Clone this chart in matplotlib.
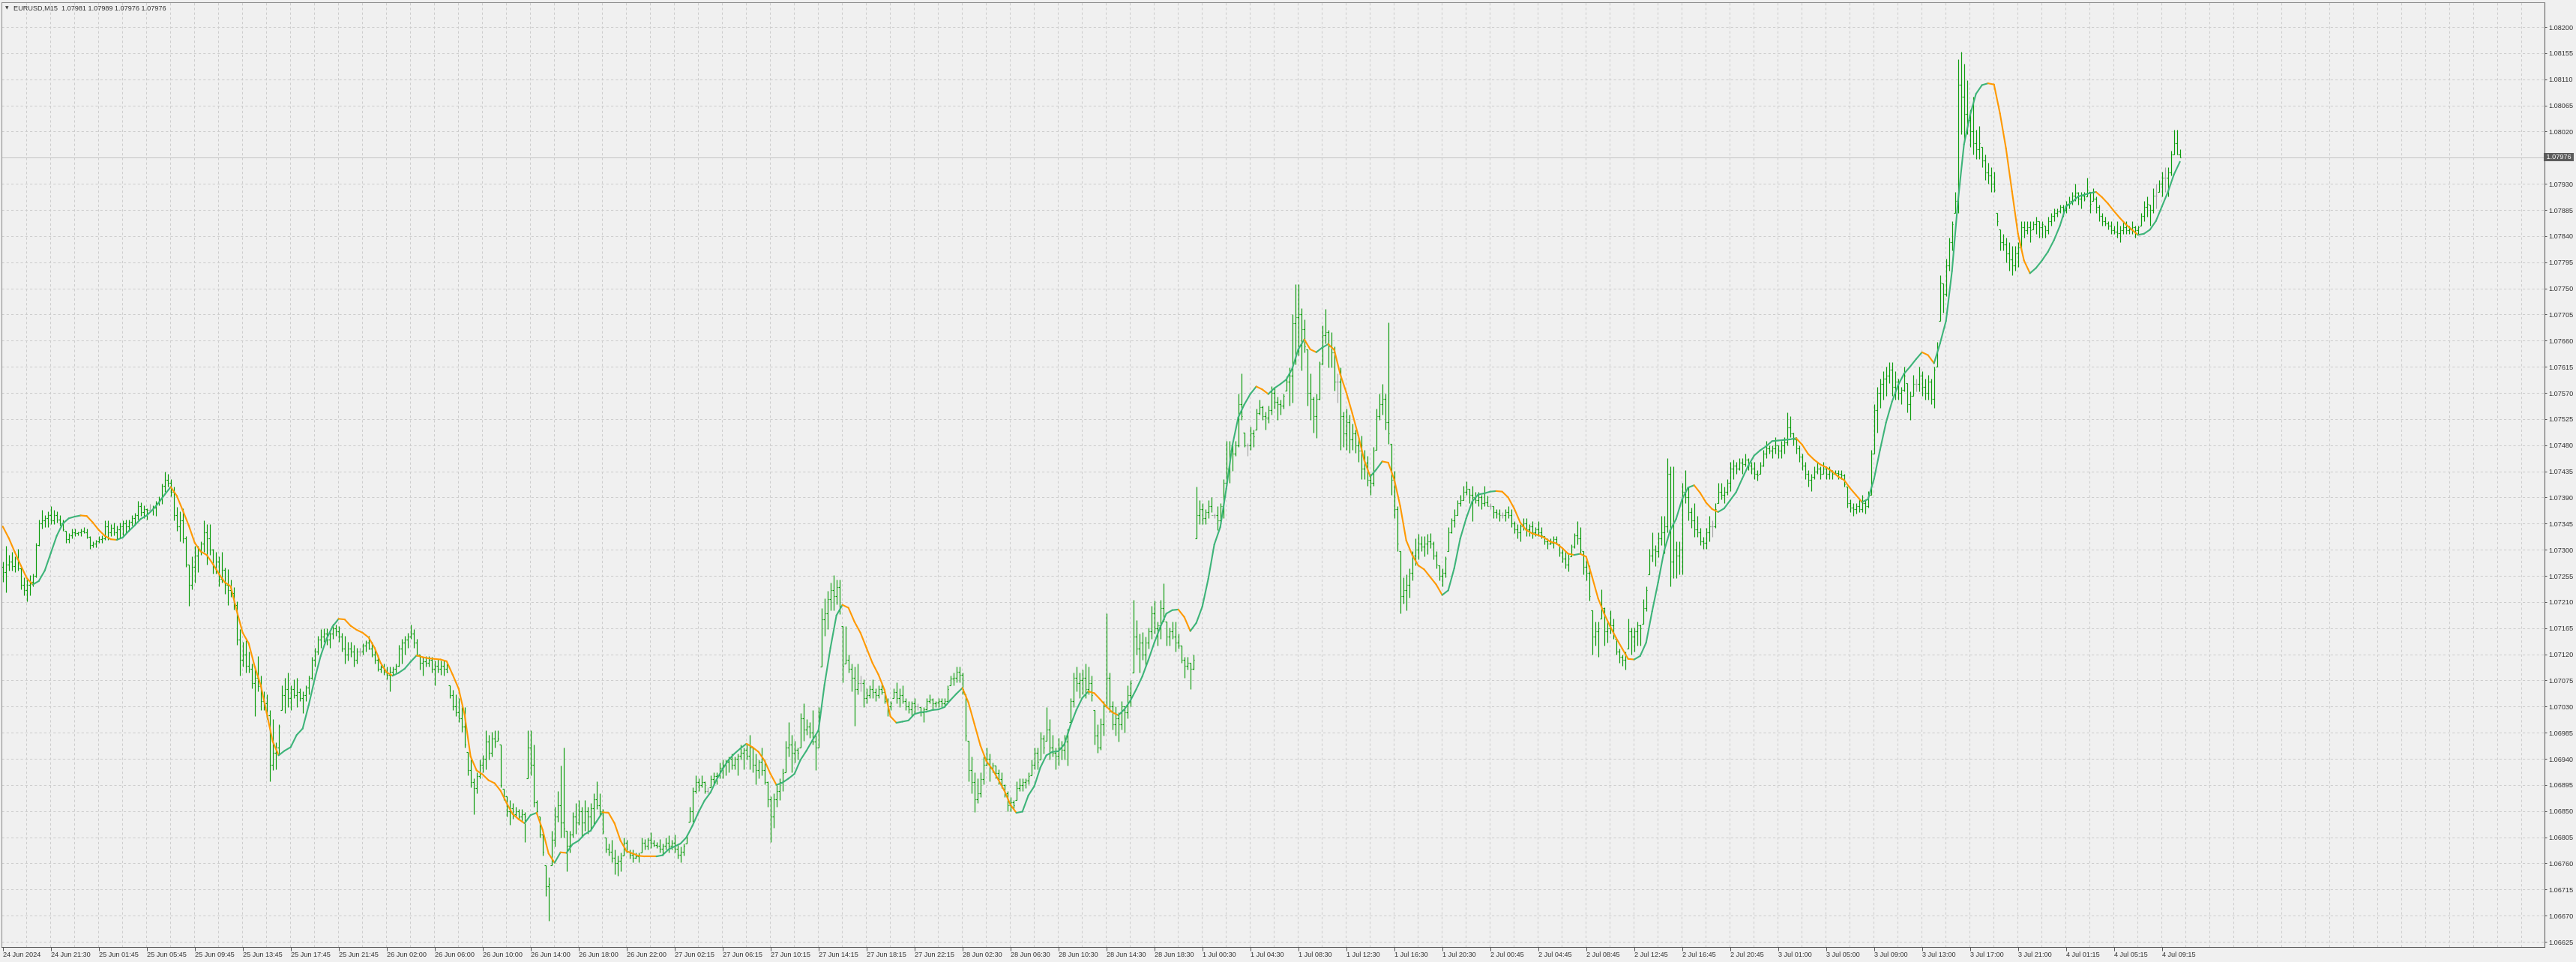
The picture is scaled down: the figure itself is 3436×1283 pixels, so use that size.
import numpy as np
import matplotlib
matplotlib.use("Agg")
import matplotlib.pyplot as plt
from matplotlib.collections import LineCollection
from matplotlib.transforms import blended_transform_factory

plt.rcParams['font.family'] = ['Liberation Sans', 'DejaVu Sans']

# ---------------- data ----------------
SYMBOL = "EURUSD,M15"
LAST_OHLC = ["1.07981", "1.07989", "1.07976", "1.07976"]
LAST_PRICE = 1.07976
BASE = 1.06          # prices below are stored in points (0.00001) above 1.06000
POINT = 0.00001

bar_high = [
 1280,1307,1291,1296,1288,1302,1269,1253,1248,1256,1259,1312,1352,1368,1360,1366,
 1375,1368,1366,1360,1352,1333,1328,1336,1336,1331,1336,1339,1336,1323,1315,1317,
 1323,1325,1350,1350,1344,1347,1341,1347,1350,1352,1352,1360,1363,1384,1382,1376,
 1371,1379,1376,1384,1392,1414,1435,1430,1422,1408,1374,1366,1371,1323,1275,1288,
 1307,1307,1315,1350,1344,1344,1302,1296,1288,1296,1269,1267,1248,1235,1211,1163,
 1141,1144,1125,1104,1099,1117,1083,1056,1051,1024,1008,968,1000,1067,1080,1088,
 1067,1077,1080,1061,1056,1067,1083,1115,1131,1152,1163,1165,1165,1160,1173,1171,
 1168,1157,1152,1141,1141,1136,1131,1131,1139,1144,1152,1141,1128,1120,1101,1104,
 1099,1099,1099,1104,1136,1147,1152,1157,1171,1163,1147,1120,1115,1117,1117,1115,
 1109,1112,1109,1109,1104,1067,1059,1051,1045,1029,1029,952,939,907,917,939,
 947,989,981,987,989,989,965,888,875,869,864,858,853,853,848,989,
 989,965,869,840,811,757,736,816,858,885,928,960,816,816,848,864,
 869,858,869,858,864,880,901,880,853,805,794,800,784,773,778,805,
 800,784,784,778,778,805,802,805,813,800,797,802,794,805,808,800,
 810,794,789,794,810,858,891,912,907,912,901,891,912,917,917,933,
 939,939,944,949,944,949,965,960,965,981,960,949,939,960,939,901,
 875,880,896,907,923,971,1003,981,971,960,1019,1035,1008,1003,1024,981,
 1029,1200,1216,1229,1243,1256,1248,1248,1168,1168,1120,1104,1099,1104,1083,1077,
 1061,1067,1077,1061,1067,1072,1056,1045,1040,1061,1072,1061,1067,1045,1040,1040,
 1045,1035,1029,1029,1045,1051,1045,1040,1045,1045,1045,1067,1083,1088,1099,1099,
 1088,1051,971,944,917,907,917,944,960,949,933,928,922,917,896,885,
 874,869,901,907,907,907,917,939,960,960,987,981,1029,1008,981,960,
 976,971,981,992,1045,1088,1099,1088,1093,1104,1099,1083,1024,1000,1010,1040,
 1191,1089,1040,1030,1020,1040,1030,1066,1075,1214,1179,1156,1158,1151,1166,1204,
 1212,1176,1214,1242,1176,1166,1176,1176,1156,1135,1115,1115,1105,1120,1408,1385,
 1380,1370,1385,1390,1362,1375,1380,1421,1487,1487,1482,1487,1569,1604,1502,1484,
 1512,1507,1543,1558,1548,1538,1548,1581,1579,1563,1558,1569,1599,1614,1706,1757,
 1757,1716,1696,1645,1604,1563,1569,1624,1686,1714,1678,1675,1650,1604,1614,1538,
 1543,1533,1517,1507,1492,1497,1472,1461,1431,1477,1543,1569,1586,1569,1691,1482,
 1436,1375,1298,1252,1257,1268,1298,1319,1327,1324,1324,1327,1329,1314,1298,1273,
 1268,1288,1339,1355,1370,1385,1395,1410,1418,1405,1410,1400,1400,1395,1410,1393,
 1380,1375,1370,1370,1365,1370,1375,1370,1349,1344,1344,1355,1355,1344,1349,1339,
 1349,1339,1324,1319,1319,1324,1324,1309,1303,1298,1293,1309,1329,1349,1339,1298,
 1283,1273,1196,1176,1176,1232,1201,1176,1196,1181,1146,1130,1120,1125,1181,1166,
 1166,1176,1171,1215,1237,1301,1330,1308,1330,1358,1358,1458,1444,1444,1315,1315,
 1415,1437,1408,1372,1380,1358,1337,1322,1337,1358,1351,1380,1415,1415,1408,1422,
 1451,1455,1451,1458,1458,1465,1458,1451,1451,1437,1451,1472,1487,1480,1480,1494,
 1480,1487,1494,1537,1530,1501,1494,1480,1465,1451,1437,1430,1444,1451,1444,1451,
 1444,1444,1437,1437,1437,1437,1430,1408,1387,1380,1380,1387,1394,1387,1401,1472,
 1551,1580,1594,1608,1615,1623,1623,1608,1594,1580,1615,1587,1573,1601,1594,1615,
 1608,1594,1601,1594,1615,1658,1773,1758,1801,1837,1866,1916,2144,2158,2137,2108,
 2058,2080,2023,2030,1994,1980,1966,1958,1951,1880,1851,1844,1837,1830,1823,1823,
 1830,1866,1866,1866,1866,1866,1873,1866,1866,1858,1873,1880,1887,1887,1894,1894,
 1901,1908,1916,1930,1916,1916,1916,1941,1916,1923,1908,1894,1880,1873,1866,1866,
 1858,1866,1858,1866,1866,1858,1866,1858,1858,1880,1901,1908,1894,1923,1930,1937,
 1951,1958,1958,1987,2023,2023,1989]

bar_low = [
 1245,1227,1264,1264,1261,1264,1232,1221,1211,1221,1237,1253,1307,1336,1339,1339,
 1344,1344,1347,1341,1333,1312,1312,1320,1323,1325,1323,1328,1320,1302,1304,1304,
 1312,1312,1317,1317,1323,1325,1317,1320,1325,1328,1333,1341,1344,1352,1358,1355,
 1352,1368,1360,1358,1376,1379,1400,1408,1392,1350,1333,1315,1312,1270,1203,1232,
 1243,1261,1291,1296,1275,1291,1259,1259,1237,1243,1224,1205,1219,1197,1136,1083,
 1099,1088,1088,1061,1013,1056,1024,1024,1008,901,920,922,949,1024,1019,1029,
 1024,1045,1029,1040,1019,1040,1051,1077,1099,1120,1131,1141,1136,1131,1147,1152,
 1141,1125,1104,1109,1115,1099,1104,1117,1120,1125,1128,1115,1104,1091,1088,1085,
 1077,1056,1083,1088,1099,1104,1120,1131,1147,1131,1117,1093,1083,1099,1099,1088,
 1067,1088,1085,1083,1088,1045,1024,1013,1003,987,960,912,891,845,880,907,
 917,922,939,944,960,971,891,869,840,826,837,840,837,832,797,906,
 912,858,845,805,773,704,661,757,789,832,805,805,746,778,805,811,
 826,805,816,811,816,826,853,842,811,778,773,762,741,738,746,773,
 778,768,762,768,762,778,784,784,786,789,786,778,773,784,778,784,
 778,768,762,773,794,832,832,880,885,891,880,880,891,896,896,907,
 907,912,917,922,922,912,939,922,939,922,917,896,907,912,896,858,
 797,821,858,869,885,917,944,917,933,939,960,971,981,976,965,920,
 960,1099,1152,1163,1195,1195,1206,1189,1072,1104,1088,1056,997,1051,1056,1029,
 1035,1045,1045,1040,1045,1051,1035,1013,1024,1045,1035,1029,1035,1024,1019,1013,
 1019,1024,1013,1003,1024,1035,1024,1029,1029,1029,1029,1040,1067,1067,1072,1072,
 1051,971,901,880,848,864,874,896,928,901,917,907,896,890,874,850,
 850,853,869,885,885,890,896,912,922,922,939,949,971,939,944,922,
 928,939,939,928,1003,1029,1056,1045,1051,1045,1051,1040,965,950,955,980,
 1030,1020,990,980,970,990,985,1010,1030,1089,1120,1089,1110,1100,1130,1146,
 1156,1135,1146,1176,1135,1135,1146,1125,1130,1105,1079,1094,1060,1094,1319,1344,
 1344,1344,1355,1365,1355,1334,1349,1355,1410,1415,1436,1461,1477,1523,1477,1461,
 1472,1477,1507,1533,1523,1507,1518,1533,1543,1523,1533,1543,1574,1548,1553,1619,
 1635,1609,1640,1548,1523,1502,1492,1558,1619,1655,1614,1614,1574,1553,1472,1477,
 1472,1467,1472,1467,1451,1421,1421,1410,1395,1410,1472,1523,1533,1507,1482,1395,
 1355,1298,1191,1207,1196,1217,1247,1273,1283,1298,1288,1293,1303,1283,1268,1247,
 1237,1253,1298,1329,1339,1360,1375,1385,1395,1380,1349,1380,1375,1370,1375,1375,
 1370,1355,1355,1349,1355,1349,1355,1339,1329,1319,1314,1334,1324,1324,1319,1324,
 1324,1319,1309,1301,1309,1303,1309,1288,1278,1268,1263,1288,1303,1309,1293,1258,
 1247,1212,1120,1135,1115,1181,1135,1140,1156,1146,1120,1105,1100,1094,1130,1120,
 1125,1135,1135,1172,1194,1258,1280,1272,1287,1308,1294,1330,1237,1251,1251,1258,
 1258,1380,1351,1337,1322,1322,1308,1301,1301,1315,1322,1337,1380,1387,1380,1394,
 1401,1422,1430,1437,1430,1444,1437,1430,1422,1419,1430,1444,1458,1465,1458,1465,
 1458,1458,1465,1480,1494,1480,1465,1451,1437,1422,1408,1401,1422,1430,1422,1430,
 1422,1422,1422,1430,1422,1422,1408,1372,1365,1358,1362,1365,1365,1362,1372,1394,
 1465,1501,1544,1558,1565,1587,1565,1558,1558,1551,1573,1537,1523,1565,1573,1573,
 1565,1558,1558,1551,1544,1615,1694,1708,1737,1780,1815,1880,1880,2016,2001,2016,
 1994,1980,1973,1973,1958,1937,1930,1916,1916,1858,1815,1815,1794,1780,1773,1780,
 1787,1815,1837,1844,1830,1851,1844,1837,1837,1837,1844,1858,1866,1873,1880,1873,
 1880,1887,1894,1901,1894,1887,1901,1908,1880,1901,1880,1866,1858,1858,1851,1844,
 1844,1837,1830,1844,1844,1844,1844,1837,1844,1858,1866,1873,1858,1880,1887,1916,
 1908,1916,1908,1944,1980,1980,1976]

bar_close = [
 1262,1275,1280,1272,1285,1268,1240,1230,1240,1245,1255,1308,1345,1350,1355,1360,
 1350,1360,1352,1345,1335,1318,1325,1330,1328,1330,1333,1330,1322,1308,1310,1315,
 1318,1320,1340,1330,1338,1330,1335,1340,1345,1340,1348,1355,1360,1375,1365,1370,
 1368,1368,1372,1380,1388,1410,1420,1415,1400,1360,1340,1350,1320,1275,1240,1270,
 1290,1300,1310,1330,1320,1300,1270,1280,1250,1265,1240,1230,1225,1205,1145,1110,
 1120,1100,1095,1070,1080,1065,1040,1035,1015,930,950,960,995,1050,1060,1045,
 1060,1050,1055,1045,1050,1062,1080,1110,1125,1145,1150,1155,1145,1155,1165,1160,
 1150,1130,1120,1130,1125,1110,1125,1125,1135,1140,1130,1120,1110,1095,1097,1090,
 1085,1090,1095,1100,1130,1140,1145,1150,1155,1140,1120,1105,1108,1105,1110,1095,
 1100,1095,1100,1095,1090,1050,1030,1020,1010,995,965,920,900,890,910,930,
 940,970,950,975,970,975,895,875,850,855,845,850,840,845,840,960,
 930,865,850,810,780,720,725,800,840,860,830,820,790,810,840,830,
 850,830,850,840,855,870,860,850,815,785,780,770,760,765,770,795,
 780,775,770,772,775,795,790,800,795,792,790,785,790,795,790,795,
 785,775,780,790,805,850,885,900,895,900,885,885,905,910,912,925,
 930,935,940,930,940,945,950,955,945,960,930,920,935,920,900,870,
 840,870,885,900,915,960,965,950,955,950,1010,990,995,985,970,960,
 1020,1180,1190,1215,1230,1220,1235,1200,1100,1110,1095,1080,1060,1070,1070,1045,
 1050,1060,1055,1050,1060,1055,1040,1030,1035,1055,1045,1050,1040,1030,1025,1035,
 1030,1030,1020,1025,1040,1042,1035,1037,1040,1035,1040,1060,1078,1080,1090,1085,
 1060,980,920,900,870,880,905,930,940,925,928,915,905,895,880,860,
 865,860,890,895,900,902,910,930,950,935,975,960,990,960,950,945,
 960,955,970,985,1040,1080,1070,1075,1080,1060,1070,1050,980,960,1000,1030,
 1080,1030,1000,1010,1000,1030,1020,1050,1070,1150,1130,1140,1120,1140,1160,1190,
 1165,1170,1200,1180,1150,1160,1150,1140,1135,1110,1100,1105,1095,1110,1360,1370,
 1355,1365,1375,1360,1360,1350,1375,1415,1440,1470,1465,1480,1550,1530,1480,1480,
 1500,1495,1535,1545,1530,1528,1540,1570,1555,1550,1548,1565,1590,1600,1690,1700,
 1705,1680,1650,1570,1560,1530,1560,1620,1670,1675,1650,1640,1590,1590,1530,1500,
 1520,1490,1500,1480,1470,1440,1450,1420,1415,1470,1530,1550,1560,1520,1500,1420,
 1370,1310,1220,1230,1240,1260,1290,1300,1310,1305,1310,1315,1310,1290,1275,1255,
 1260,1285,1330,1350,1360,1380,1385,1400,1405,1395,1390,1385,1390,1380,1382,1375,
 1375,1365,1362,1360,1360,1365,1360,1345,1335,1330,1340,1345,1335,1340,1330,1335,
 1330,1325,1315,1310,1312,1318,1310,1295,1285,1275,1285,1305,1325,1320,1300,1270,
 1260,1220,1150,1160,1165,1200,1160,1165,1170,1150,1125,1115,1110,1120,1160,1150,
 1160,1170,1165,1200,1230,1290,1300,1298,1320,1330,1340,1430,1280,1300,1290,1300,
 1400,1390,1365,1350,1335,1330,1315,1312,1330,1340,1340,1370,1400,1395,1400,1415,
 1440,1445,1440,1450,1448,1455,1445,1440,1430,1428,1445,1465,1475,1470,1475,1480,
 1470,1480,1485,1510,1500,1490,1475,1460,1445,1430,1420,1425,1435,1440,1430,1440,
 1430,1435,1430,1432,1430,1428,1412,1380,1372,1370,1375,1370,1380,1375,1395,1465,
 1540,1570,1585,1595,1600,1610,1580,1590,1570,1575,1600,1550,1565,1585,1585,1600,
 1580,1570,1590,1560,1610,1650,1760,1740,1790,1830,1860,1900,2100,2080,2050,2040,
 2020,2000,1990,2000,1970,1950,1945,1930,1920,1865,1830,1825,1810,1800,1790,1810,
 1820,1855,1850,1855,1850,1860,1865,1855,1860,1850,1865,1875,1880,1882,1890,1885,
 1895,1900,1910,1915,1905,1910,1905,1920,1895,1905,1890,1875,1865,1862,1858,1850,
 1848,1845,1850,1855,1850,1852,1855,1850,1855,1875,1890,1895,1885,1910,1910,1930,
 1940,1940,1950,1980,2000,1981,1976]
first_open = 1270

# smoothed indicator line (read every 2 bars)
ma_bar = list(range(0, 727, 2))
ma_value = [
 1340,1320,1296,1273,1251,1240,1246,1264,1294,1324,1345,1354,1357,1359,1358,1347,
 1334,1324,1318,1317,1321,1332,1342,1353,1359,1369,1381,1395,1408,1393,1368,1342,
 1312,1297,1291,1276,1259,1244,1237,1195,1157,1139,1099,1067,1019,970,946,954,
 960,981,992,1032,1077,1117,1147,1168,1181,1180,1169,1162,1157,1149,1131,1105,
 1089,1083,1088,1095,1107,1118,1115,1113,1112,1111,1108,1085,1061,1016,944,920,
 913,903,898,885,864,845,836,829,843,847,818,777,761,779,778,793,
 799,810,816,832,848,847,829,799,781,777,773,772,772,772,774,784,
 789,794,805,825,848,868,882,904,922,938,949,958,966,960,952,937,
 914,895,899,906,914,938,954,972,989,1067,1131,1187,1205,1200,1176,1157,
 1131,1105,1085,1059,1013,1002,1004,1006,1017,1020,1021,1024,1025,1029,1041,1052,
 1062,1037,1000,963,936,922,904,885,861,847,849,877,893,925,946,952,
 953,965,997,1024,1045,1056,1053,1042,1030,1020,1015,1025,1040,1060,1082,1110,
 1140,1167,1190,1196,1197,1184,1160,1174,1202,1250,1309,1339,1405,1479,1528,1550,
 1568,1581,1576,1568,1578,1585,1593,1612,1645,1662,1645,1640,1648,1654,1644,1602,
 1571,1535,1497,1454,1426,1438,1452,1450,1421,1375,1316,1291,1273,1266,1253,1240,
 1222,1230,1268,1319,1354,1383,1395,1397,1400,1401,1400,1390,1371,1347,1334,1328,
 1325,1321,1314,1311,1303,1293,1291,1293,1288,1253,1216,1190,1168,1148,1130,1112,
 1111,1117,1140,1194,1244,1298,1333,1353,1387,1407,1411,1398,1381,1370,1365,1371,
 1385,1399,1422,1444,1462,1471,1478,1487,1488,1489,1490,1492,1481,1465,1455,1447,
 1442,1435,1426,1420,1406,1394,1382,1387,1422,1472,1519,1555,1583,1603,1615,1628,
 1640,1635,1621,1655,1694,1780,1901,1998,2048,2085,2100,2103,2101,2051,1991,1917,
 1844,1798,1776,1785,1798,1813,1833,1858,1891,1898,1908,1911,1914,1916,1907,1896,
 1883,1871,1860,1851,1842,1844,1851,1866,1891,1916,1946,1968]

time_labels = [
 "24 Jun 2024", "24 Jun 21:30", "25 Jun 01:45", "25 Jun 05:45", "25 Jun 09:45",
 "25 Jun 13:45", "25 Jun 17:45", "25 Jun 21:45", "26 Jun 02:00", "26 Jun 06:00",
 "26 Jun 10:00", "26 Jun 14:00", "26 Jun 18:00", "26 Jun 22:00", "27 Jun 02:15",
 "27 Jun 06:15", "27 Jun 10:15", "27 Jun 14:15", "27 Jun 18:15", "27 Jun 22:15",
 "28 Jun 02:30", "28 Jun 06:30", "28 Jun 10:30", "28 Jun 14:30", "28 Jun 18:30",
 "1 Jul 00:30", "1 Jul 04:30", "1 Jul 08:30", "1 Jul 12:30", "1 Jul 16:30",
 "1 Jul 20:30", "2 Jul 00:45", "2 Jul 04:45", "2 Jul 08:45", "2 Jul 12:45",
 "2 Jul 16:45", "2 Jul 20:45", "3 Jul 01:00", "3 Jul 05:00", "3 Jul 09:00",
 "3 Jul 13:00", "3 Jul 17:00", "3 Jul 21:00", "4 Jul 01:15", "4 Jul 05:15",
 "4 Jul 09:15"]
BARS_PER_LABEL = 16
BARS_PER_VGRID = 8

price_labels = [
 "1.06625", "1.06670", "1.06715", "1.06760", "1.06805", "1.06850", "1.06895",
 "1.06940", "1.06985", "1.07030", "1.07075", "1.07120", "1.07165", "1.07210",
 "1.07255", "1.07300", "1.07345", "1.07390", "1.07435", "1.07480", "1.07525",
 "1.07570", "1.07615", "1.07660", "1.07705", "1.07750", "1.07795", "1.07840",
 "1.07885", "1.07930", "1.08020", "1.08065", "1.08110", "1.08155", "1.08200"]

# ---------------- styling ----------------
BG = "#F0F0F0"
GRID = "#CDCDCD"
AXIS = "#5A5A5A"
TXT = "#333333"
BAR_COL = "#0C9C0C"
DOJI_COL = "#A6A6A6"
MA_UP = "#3DB479"
MA_DN = "#FF9900"
FS = 6.6

W, H = 3436, 1283
px_l, px_r, px_t, px_b = 2, 3394, 3, 1263
fig = plt.figure(figsize=(W / 100, H / 100), dpi=100, facecolor=BG)
ax = fig.add_axes([px_l / W, 1 - px_b / H, (px_r - px_l) / W, (px_b - px_t) / H])
ax.set_facecolor(BG)

# pixel calibration: 1.08200 at y=36px, 1.06625 at y=1256px; bar i at x=3.7+4i px
ppu = (1256 - 36) / (1.08200 - 1.06625)
y_top = 1.08200 + (36 - px_t) / ppu
y_bot = 1.08200 - (px_b - 36) / ppu
x_left = (px_l - 3.7) / 4
x_right = (px_r - 3.7) / 4
ax.set_xlim(x_left, x_right)
ax.set_ylim(y_bot, y_top)

hi = BASE + np.array(bar_high) * POINT
lo = BASE + np.array(bar_low) * POINT
cl = BASE + np.array(bar_close) * POINT
prev = np.r_[BASE + first_open * POINT, cl[:-1]]
op = np.clip(prev, lo, hi)
n = len(cl)
x = np.arange(n)

# grid
yt = [float(p) for p in price_labels]
ax.hlines(yt, x_left, x_right, colors=GRID, linewidth=0.75,
          linestyles=(0, (3, 3)), zorder=0)
vg = np.arange(BARS_PER_VGRID, x_right, BARS_PER_VGRID) - 0.2
ax.vlines(vg, y_bot, y_top, colors=GRID, linewidth=0.75,
          linestyles=(0, (3, 3)), zorder=0)

# current price line
ax.axhline(LAST_PRICE, color="#C4C4C4", linewidth=0.75, zorder=1)

# OHLC bars
tw = 0.34
segs = []
cols = []
for i in range(n):
    c = DOJI_COL if op[i] == cl[i] else BAR_COL
    segs.append([(x[i], lo[i]), (x[i], hi[i])])
    segs.append([(x[i] - tw, op[i]), (x[i], op[i])])
    segs.append([(x[i], cl[i]), (x[i] + tw, cl[i])])
    cols += [c, c, c]
lc = LineCollection(segs, colors=cols, linewidths=0.85, antialiaseds=True, zorder=2)
ax.add_collection(lc)

# indicator line coloured by slope
mx = np.array(ma_bar)
my = BASE + np.array(ma_value) * POINT
msegs = [[(mx[k], my[k]), (mx[k + 1], my[k + 1])] for k in range(len(mx) - 1)]
mcols = [MA_UP if my[k + 1] > my[k] else MA_DN for k in range(len(mx) - 1)]
mlc = LineCollection(msegs, colors=mcols, linewidths=1.5, capstyle="round",
                     joinstyle="round", zorder=3)
ax.add_collection(mlc)

# axes
for s in ["left", "top"]:
    ax.spines[s].set_color("#8C8C8C")
    ax.spines[s].set_linewidth(0.75)
for s in ["right", "bottom"]:
    ax.spines[s].set_color(AXIS)
    ax.spines[s].set_linewidth(0.75)

ax.yaxis.tick_right()
ax.set_yticks(yt)
ax.set_yticklabels(price_labels)
ax.tick_params(axis="y", direction="out", length=2.5, width=0.75, color=AXIS,
               pad=1.5, labelsize=FS, labelcolor=TXT)
xt = [BARS_PER_LABEL * k for k in range(len(time_labels))]
ax.set_xticks(xt)
ax.set_xticklabels(time_labels)
ax.tick_params(axis="x", direction="out", length=3.5, width=0.75, color=AXIS,
               pad=1.0, labelsize=FS, labelcolor=TXT)
for lab in ax.get_xticklabels():
    lab.set_horizontalalignment("left")

# last price tag
tr = blended_transform_factory(ax.transAxes, ax.transData)
ax.text(1.0, LAST_PRICE, " 1.07976 ", transform=tr, ha="left", va="center",
        fontsize=FS, color="white", clip_on=False, zorder=5,
        bbox=dict(boxstyle="square,pad=0.12", fc="#5C5C5C", ec="none"))

# header
fig.text(6.5 / W, 1 - 11 / H, "\u25BC", fontsize=4.2, color="#404040",
         ha="left", va="center", family="DejaVu Sans")
fig.text(18 / W, 1 - 11 / H,
         SYMBOL + "  " + " ".join(LAST_OHLC), fontsize=FS, color=TXT,
         ha="left", va="center")

fig.savefig("out.png", dpi=100, facecolor=BG)
